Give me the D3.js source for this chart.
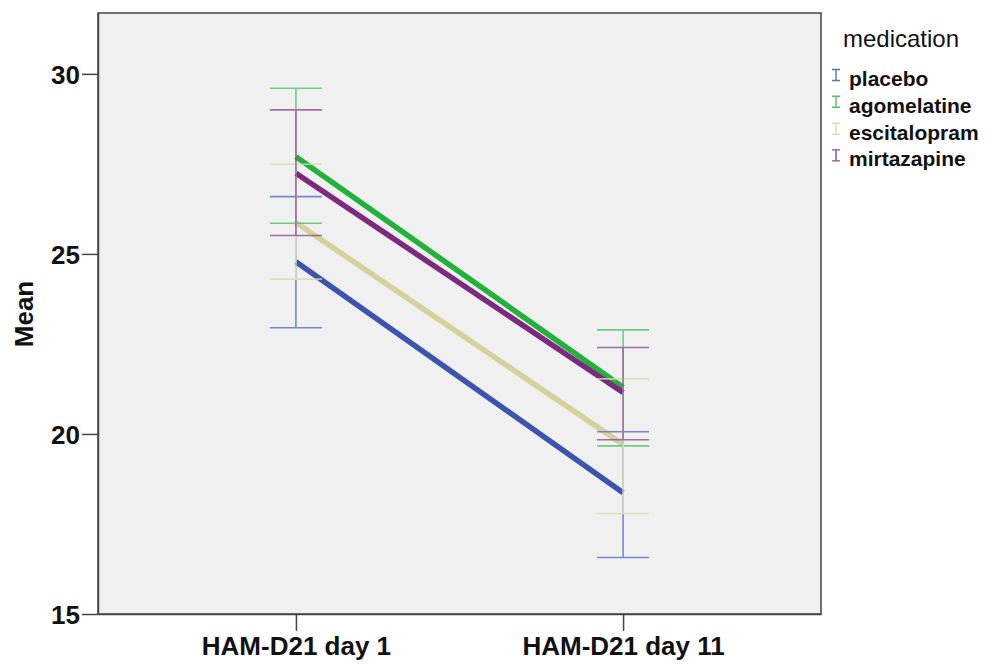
<!DOCTYPE html>
<html>
<head>
<meta charset="utf-8">
<script src="https://cdn.jsdelivr.net/npm/d3@7"></script>
<style>
  html, body { margin: 0; padding: 0; background: #fff; }
  svg { display: block; }
  text { font-family: "Liberation Sans", Arial, sans-serif; }
</style>
</head>
<body>
<svg id="chart" width="989" height="664"></svg>
<script>
// Time points on the x axis
const timepoints = ["HAM-D21 day 1", "HAM-D21 day 11"];

// Medication groups and their colours
const groups = ["placebo", "agomelatine", "escitalopram", "mirtazapine"];
const lineColors = ["#3c55ab", "#22b23a", "#d6d09b", "#7b2a80"];
const barColors = ["#5a6fc0", "#4cc463", "#ddd8ac", "#8f4a93"];

// Mean HAM-D21 score per group at each time point
const placeboMean = [24.78, 18.37];
const agomelatineMean = [27.70, 21.30];
const escitalopramMean = [25.87, 19.71];
const mirtazapineMean = [27.24, 21.15];

// Error bar limits (lower, upper) per time point
const placeboLow = [22.95, 16.57];
const placeboHigh = [26.59, 20.06];
const agomelatineLow = [25.85, 19.67];
const agomelatineHigh = [29.60, 22.89];
const escitalopramLow = [24.30, 17.79];
const escitalopramHigh = [27.49, 21.53];
const mirtazapineLow = [25.51, 19.84];
const mirtazapineHigh = [29.00, 22.40];

// Y axis ticks
const yTicks = [15, 20, 25, 30];
const yMin = 15, yMax = 31.69;

const series = [
  { name: groups[0], mean: placeboMean, low: placeboLow, high: placeboHigh },
  { name: groups[1], mean: agomelatineMean, low: agomelatineLow, high: agomelatineHigh },
  { name: groups[2], mean: escitalopramMean, low: escitalopramLow, high: escitalopramHigh },
  { name: groups[3], mean: mirtazapineMean, low: mirtazapineLow, high: mirtazapineHigh }
].map((s, i) => ({ ...s, line: lineColors[i], bar: barColors[i] }));

const plot = { left: 98, right: 821, top: 13, bottom: 614 };
const svg = d3.select("#chart");

const x = d3.scalePoint().domain(timepoints).range([plot.left, plot.right]).padding(0.605);
const y = d3.scaleLinear().domain([yMin, yMax]).range([plot.bottom, plot.top]);

// Plot background
svg.append("rect")
  .attr("x", plot.left).attr("y", plot.top)
  .attr("width", plot.right - plot.left).attr("height", plot.bottom - plot.top)
  .attr("fill", "#f0f0f0").attr("stroke", "#444").attr("stroke-width", 1.5);

// Axes
const yAxis = svg.append("g")
  .attr("transform", `translate(${plot.left},0)`)
  .call(d3.axisLeft(y).tickValues(yTicks).tickSizeInner(16).tickSizeOuter(0).tickPadding(2).tickFormat(d3.format("d")));
const xAxis = svg.append("g")
  .attr("transform", `translate(0,${plot.bottom})`)
  .call(d3.axisBottom(x).tickSizeInner(17).tickSizeOuter(0).tickPadding(6));

[yAxis, xAxis].forEach(g => {
  g.select(".domain").attr("stroke", "#444").attr("stroke-width", 1.5);
  g.selectAll(".tick line").attr("stroke", "#444").attr("stroke-width", 1.5);
  g.selectAll(".tick text")
    .attr("fill", "#111")
    .style("font-family", "'Liberation Sans', Arial, sans-serif")
    .style("font-weight", "bold")
    .style("font-size", "26px");
});
yAxis.selectAll(".tick text").attr("dy", "0.36em");
xAxis.selectAll(".tick text").attr("dy", "0.7em");

// Y axis title
svg.append("text")
  .attr("transform", `translate(33,314) rotate(-90)`)
  .attr("text-anchor", "middle")
  .attr("fill", "#111")
  .style("font-weight", "bold")
  .style("font-size", "26px")
  .text("Mean");

// Mean lines
const line = d3.line().x((d, i) => x(timepoints[i])).y(d => y(d));
svg.append("g").selectAll("path")
  .data(series)
  .join("path")
  .attr("d", s => line(s.mean))
  .attr("fill", "none")
  .attr("stroke", s => s.line)
  .attr("stroke-width", 5.5);

// Error bars
const capHalf = 26;
const bars = svg.append("g").attr("stroke-width", 1.6).attr("opacity", 0.8);
series.forEach(s => {
  timepoints.forEach((t, i) => {
    const cx = x(t);
    const g = bars.append("g").attr("stroke", s.bar);
    g.append("line").attr("x1", cx).attr("x2", cx).attr("y1", y(s.low[i])).attr("y2", y(s.high[i]));
    g.append("line").attr("x1", cx - capHalf).attr("x2", cx + capHalf).attr("y1", y(s.low[i])).attr("y2", y(s.low[i]));
    g.append("line").attr("x1", cx - capHalf).attr("x2", cx + capHalf).attr("y1", y(s.high[i])).attr("y2", y(s.high[i]));
  });
});

// Legend
const legend = svg.append("g");
legend.append("text")
  .attr("x", 843).attr("y", 47)
  .attr("fill", "#111")
  .style("font-size", "24px")
  .text("medication");
const item = legend.selectAll("g.item")
  .data(series)
  .join("g")
  .attr("class", "item")
  .attr("transform", (s, i) => `translate(0,${86 + i * 26.8})`);
item.append("path")
  .attr("d", "M832,-16.5H840M836,-16.5V-5.5M832,-5.5H840")
  .attr("fill", "none")
  .attr("stroke", s => s.bar)
  .attr("stroke-width", 1.4);
item.append("text")
  .attr("x", 849).attr("y", 0)
  .attr("fill", "#111")
  .style("font-weight", "bold")
  .style("font-size", "21px")
  .text(s => s.name);
</script>
</body>
</html>
